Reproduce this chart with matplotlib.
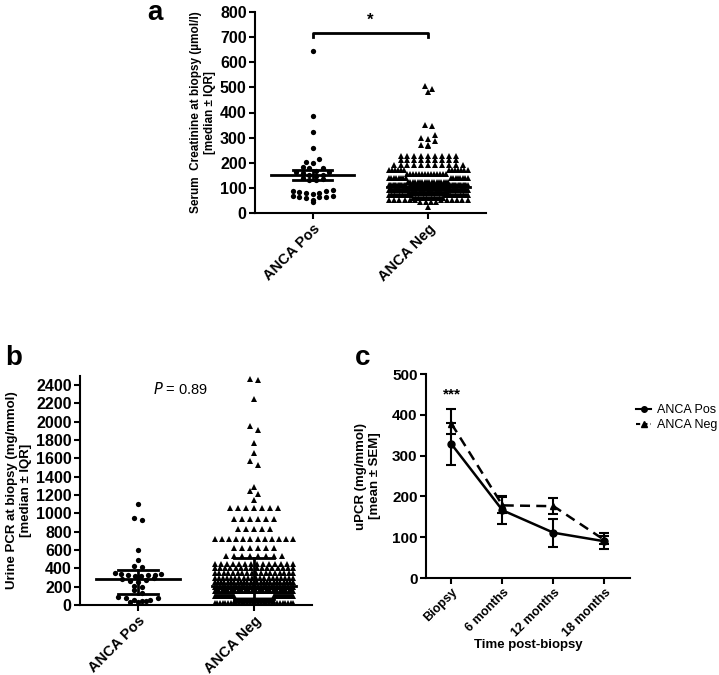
import numpy as np
import matplotlib
matplotlib.use("Agg")
import matplotlib.pyplot as plt
from matplotlib.lines import Line2D

plt.rcParams['font.family'] = ['Liberation Sans', 'DejaVu Sans']

# ---- panel a: serum creatinine (umol/l) ----
cats = ["ANCA Pos", "ANCA Neg"]
pos_a = [645, 385, 322, 258, 215, 202, 200, 183, 180, 178, 168, 165, 162, 160,
         152, 150, 148, 138, 135, 132, 130, 90, 88, 86, 82, 80, 78, 76, 68, 66,
         65, 64, 62, 60, 52, 45]
neg_a_vals = [505, 495, 480, 350, 345, 310, 300, 295, 285, 270, 265, 228, 210,
              192, 172, 155, 140, 125, 112, 100, 90, 80, 70, 60, 50, 42, 25]
neg_a_counts = [1, 1, 1, 1, 1, 1, 1, 1, 1, 2, 1, 9, 9, 11, 13, 14, 16, 18, 30,
                35, 35, 35, 30, 20, 12, 4, 1]
med_a = [150, 104]
lo_a = [130, 92]
hi_a = [172, 113]

# ---- panel b: urine PCR (mg/mmol) ----
pos_b = [1100, 955, 930, 605, 490, 425, 410, 345, 340, 335, 332, 330, 325, 320,
         318, 290, 280, 270, 260, 250, 210, 200, 160, 130, 90, 80, 75, 60, 50,
         45, 40, 30, 28]
neg_b_vals = [2470, 2460, 2250, 1950, 1910, 1770, 1655, 1570, 1530, 1290, 1240,
              1210, 1150, 1060, 940, 830, 720, 625, 535, 450, 400, 350, 300, 250,
              200, 150, 100, 60, 20]
neg_b_counts = [1, 1, 1, 1, 1, 1, 1, 1, 1, 1, 1, 1, 1, 7, 6, 5, 12, 6, 8, 14, 16,
                18, 20, 25, 30, 35, 40, 40, 30]
med_b = [280, 210]
lo_b = [115, 70]
hi_b = [385, 515]

# ---- panel c: uPCR over time (mean +/- SEM) ----
times = ["Biopsy", "6 months", "12 months", "18 months"]
pos_c = [328, 166, 111, 90]
pos_c_lo = [276, 133, 77, 70]
pos_c_hi = [380, 198, 145, 111]
neg_c = [378, 178, 176, 93]
neg_c_lo = [352, 160, 157, 83]
neg_c_hi = [413, 200, 197, 103]


def swarm(ax, center, vals, marker, ms, binh, step, halfw):
    # graphpad-like column scatter: rows of points spread sideways
    vals = sorted(vals, reverse=True)
    rows = []
    for v in vals:
        if rows and rows[-1][0] - v < binh:
            rows[-1].append(v)
        else:
            rows.append([v])
    for row in rows:
        row = sorted(row)
        n = len(row)
        sp = step if n < 2 else min(step, 2 * halfw / (n - 1))
        offs = [0]
        k = 1
        while len(offs) < n:
            offs.append(-k)
            if len(offs) < n:
                offs.append(k)
            k += 1
        if n % 2 == 0:
            offs = [o + 0.5 for o in offs]
        xs = [center + o * sp for o in offs]
        ax.plot(xs, row, marker, color='black', ms=ms, ls='none',
                markeredgewidth=0, clip_on=False)


def summary(ax, med, lo, hi):
    for i in range(len(med)):
        ax.plot([i - 0.36, i + 0.36], [med[i], med[i]], color='black', lw=2)
        ax.plot([i - 0.17, i + 0.17], [lo[i], lo[i]], color='black', lw=2)
        ax.plot([i - 0.17, i + 0.17], [hi[i], hi[i]], color='black', lw=2)
        ax.plot([i, i], [lo[i], hi[i]], color='black', lw=2)


def style(ax, ysize=11.5, xsize=10.5):
    for s in ['top', 'right']:
        ax.spines[s].set_visible(False)
    for s in ['left', 'bottom']:
        ax.spines[s].set_linewidth(1.5)
    ax.tick_params(width=1.5, length=4, direction='out', pad=2)
    ax.tick_params(axis='y', labelsize=ysize)
    ax.tick_params(axis='x', labelsize=xsize)
    for lab in ax.get_yticklabels() + ax.get_xticklabels():
        lab.set_fontweight('bold')


W, H = 719, 675
fig = plt.figure(figsize=(W / 100, H / 100), dpi=100)


def box(l, t, r, b):
    return [l / W, 1 - b / H, (r - l) / W, (b - t) / H]


# panel a
ax1 = fig.add_axes(box(255, 12, 486, 213))
neg_a = np.repeat(neg_a_vals, neg_a_counts)
swarm(ax1, 0, pos_a, 'o', 3.8, 18, 0.058, 0.18)
swarm(ax1, 1, neg_a, '^', 4.3, 18, 0.06, 0.34)
summary(ax1, med_a, lo_a, hi_a)
ax1.set_xlim(-0.5, 1.5)
ax1.set_ylim(0, 800)
ax1.set_yticks(range(0, 801, 100))
ax1.set_xticks([0, 1])
ax1.set_xticklabels(cats, rotation=45, ha='right', rotation_mode='anchor')
ax1.set_ylabel("Serum  Creatinine at biopsy (µmol/l)\n[median ± IQR]",
               fontweight='bold', fontsize=8.5, labelpad=3)
style(ax1)
ax1.plot([0, 0, 1, 1], [700, 718, 718, 700], color='black', lw=2, clip_on=False)
ax1.text(0.5, 738, "*", ha='center', va='bottom', fontsize=12, fontweight='bold')

# panel b
ax2 = fig.add_axes(box(80, 376, 312, 605))
neg_b = np.repeat(neg_b_vals, neg_b_counts)
swarm(ax2, 0, pos_b, 'o', 3.8, 48, 0.068, 0.2)
swarm(ax2, 1, neg_b, '^', 4.3, 48, 0.068, 0.34)
summary(ax2, med_b, lo_b, hi_b)
ax2.set_xlim(-0.5, 1.5)
ax2.set_ylim(0, 2500)
ax2.set_yticks(range(0, 2401, 200))
ax2.set_xticks([0, 1])
ax2.set_xticklabels(cats, rotation=45, ha='right', rotation_mode='anchor')
ax2.set_ylabel("Urine PCR at biopsy (mg/mmol)\n[median ± IQR]",
               fontweight='bold', fontsize=9.5, labelpad=3)
style(ax2)
ax2.text(0.37, 2360, "$P$ = 0.89", ha='center', va='center', fontsize=10.5)

# panel c
ax3 = fig.add_axes(box(426, 374, 630, 578))
x = np.arange(len(times))
ax3.errorbar(x, pos_c, yerr=[np.subtract(pos_c, pos_c_lo), np.subtract(pos_c_hi, pos_c)],
             color='black', marker='o', ms=5, lw=1.8, capsize=3.5, elinewidth=1.5,
             capthick=1.5, label="ANCA Pos")
ax3.errorbar(x, neg_c, yerr=[np.subtract(neg_c, neg_c_lo), np.subtract(neg_c_hi, neg_c)],
             color='black', marker='^', ms=5, lw=1.8, ls=(0, (4, 2.5)), capsize=3.5,
             elinewidth=1.5, capthick=1.5, label="ANCA Neg")
ax3.set_xlim(-0.5, 3.5)
ax3.set_ylim(0, 500)
ax3.set_yticks(range(0, 501, 100))
ax3.set_xticks(x)
ax3.set_xticklabels(times, rotation=45, ha='right', rotation_mode='anchor')
ax3.set_ylabel("uPCR (mg/mmol)\n[mean ± SEM]", fontweight='bold', fontsize=9.5, labelpad=8)
ax3.set_xlabel("Time post-biopsy", fontweight='bold', fontsize=9.5)
ax3.xaxis.set_label_coords(0.5, -0.30)
style(ax3, ysize=11, xsize=9)
ax3.text(0, 432, "***", ha='center', va='bottom', fontsize=11, fontweight='bold')
handles = [Line2D([], [], color='black', marker='o', ms=4, lw=1.5),
           Line2D([], [], color='black', marker='^', ms=4, lw=1.5, ls=(0, (2, 1.5)))]
fig.legend(handles, ["ANCA Pos", "ANCA Neg"], loc='upper left',
           bbox_to_anchor=(636 / W, 1 - 404 / H), frameon=False, fontsize=9,
           handlelength=1.2, handletextpad=0.5, labelspacing=0.25, borderpad=0,
           borderaxespad=0)

# panel letters
fig.text(147 / W, 1 - 20 / H, "a", fontsize=20, fontweight='bold', va='baseline', ha='left')
fig.text(5 / W, 1 - 365 / H, "b", fontsize=20, fontweight='bold', va='baseline', ha='left')
fig.text(355 / W, 1 - 365 / H, "c", fontsize=20, fontweight='bold', va='baseline', ha='left')

fig.savefig("out.png", dpi=100)
